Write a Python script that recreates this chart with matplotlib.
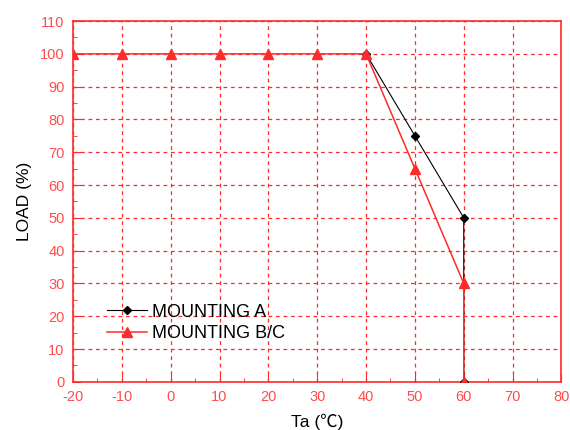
import numpy as np
import matplotlib.pyplot as plt
from matplotlib.ticker import MultipleLocator

# data
ta_a = [40, 50, 60, 60]
load_a = [100, 75, 50, 0]
ta_bc = [-20, -10, 0, 10, 20, 30, 40, 50, 60, 60]
load_bc = [100, 100, 100, 100, 100, 100, 100, 65, 30, 0]

red = '#ff2a2a'
tick_red = '#ff4d4d'

plt.rcParams['font.family'] = ['Liberation Sans', 'DejaVu Sans']
plt.rcParams['axes.unicode_minus'] = False

fig = plt.figure(figsize=(5.7, 4.3), dpi=100)
ax = fig.add_axes([0.128, 0.112, 0.857, 0.839])

ax.plot(ta_a, load_a, color='black', lw=0.8, marker='D', ms=4.5,
        label='MOUNTING A', zorder=3)
ax.plot(ta_bc, load_bc, color=red, lw=1.1, marker='^', ms=7,
        label='MOUNTING B/C', zorder=4)

ax.set_xlim(-20, 80)
ax.set_ylim(0, 110)
ax.xaxis.set_major_locator(MultipleLocator(10))
ax.xaxis.set_minor_locator(MultipleLocator(5))
ax.yaxis.set_major_locator(MultipleLocator(10))
ax.yaxis.set_minor_locator(MultipleLocator(5))

ax.grid(True, which='major', color=red, ls=(0, (3, 3)), lw=0.9)
for s in ax.spines.values():
    s.set_color(red)
    s.set_linewidth(1.2)
ax.tick_params(which='both', direction='in', color=red, labelcolor=tick_red,
               labelsize=10.5)
ax.tick_params(which='major', length=6, pad=6)
ax.tick_params(which='minor', length=3)

ax.set_xlabel('Ta (℃)', fontsize=12.5, labelpad=7,
              family=['Liberation Sans', 'Noto Sans CJK SC'])
ax.set_ylabel('LOAD (%)', fontsize=12.5, labelpad=6)

ax.legend(loc='lower left', bbox_to_anchor=(0.051, 0.085), frameon=False,
          fontsize=13, handlelength=2.2, handletextpad=0.3, borderpad=0,
          labelspacing=0.25)

fig.savefig('out.png', dpi=100)
